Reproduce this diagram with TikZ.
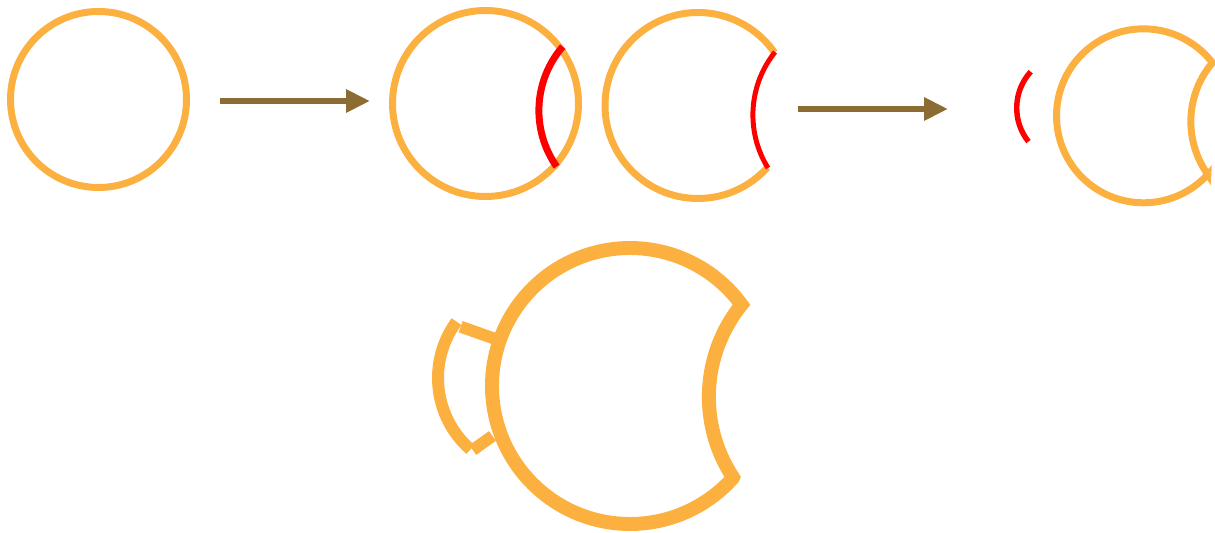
\documentclass[tikz,border=0pt]{standalone}
\usepackage{tikz}
\usetikzlibrary{arrows.meta,calc}
\definecolor{ringorange}{RGB}{251,176,64}
\definecolor{cutred}{RGB}{255,0,0}
\definecolor{arrowbrown}{RGB}{140,108,50}

\begin{document}
\begin{tikzpicture}[x=0.02cm,y=-0.02cm]

\tikzset{
  ring/.style={draw=ringorange, line width=3.97pt},
  thickring/.style={draw=ringorange, line width=#1},
  cutarc/.style={draw=cutred, line width=#1},
  steparrow/.style={draw=arrowbrown, line width=3.97pt,
                  -{Triangle[length=13.6pt, width=12.5pt]}}
}

\useasboundingbox (0,0) rectangle (1215,533);

% Centres
\coordinate (whole)   at (98.5,99.5);
\coordinate (marked)  at (485.5,103.5);
\coordinate (markcut) at (636.5,110.5);
\coordinate (opened)  at (698,105.5);
\coordinate (opencut) at (853.5,115);
\coordinate (piece)   at (1070.7,108);
\coordinate (shaped)  at (1143.5,115.8);
\coordinate (big)     at (630,386);
\coordinate (flap)    at (533,378);

% Arrow ends
\coordinate (a1s) at (220,101);
\coordinate (a1e) at (370,101);
\coordinate (a2s) at (798,109);
\coordinate (a2e) at (948,109);

% Step 1: whole ring
\draw[ring] (whole) circle[radius=88];
\draw[steparrow] (a1s) -- (a1e);

% Step 2: ring with the cut marked
\draw[ring] (marked) circle[radius=93];
\draw[cutarc=3.97pt] (markcut) ++(144.9:97.6) arc[start angle=144.9, end angle=220.9, radius=97.6];

% Step 3: ring opened along the cut
\draw[ring] (opened) ++(41.8:93) arc[start angle=41.8, end angle=325.2, radius=93];
\draw[cutarc=2.83pt] (opencut) ++(148.2:100.6) arc[start angle=148.2, end angle=218.75, radius=100.6];
\draw[steparrow] (a2s) -- (a2e);

% Step 4: cut piece and closed shape
\draw[cutarc=3.1pt] (piece) ++(141.5:54) arc[start angle=141.5, end angle=222.2, radius=54];
\draw[ring] (shaped) ++(42.3:87) arc[start angle=42.3, end angle=322.4, radius=87]
  arc[start angle=220.3, end angle=144.4, radius=91] -- cycle;

% Result
\draw[thickring=7.94pt] (big) ++(41.8:138) arc[start angle=41.8, end angle=323.9, radius=138]
  arc[start angle=219, end angle=146.6, radius=146.5] -- cycle;
\coordinate (ftop) at (460.7,326.7);
\coordinate (fbot) at (472.7,450);
\coordinate (jtop) at (494,338.5);
\coordinate (jbot) at (492.5,436);
\draw[thickring=6.8pt] (flap) ++(216.4:95) arc[start angle=216.4, end angle=131.2, radius=95];
\draw[thickring=6.8pt] (ftop) -- (jtop);
\draw[thickring=6.8pt] (fbot) -- (jbot);

\end{tikzpicture}
\end{document}
